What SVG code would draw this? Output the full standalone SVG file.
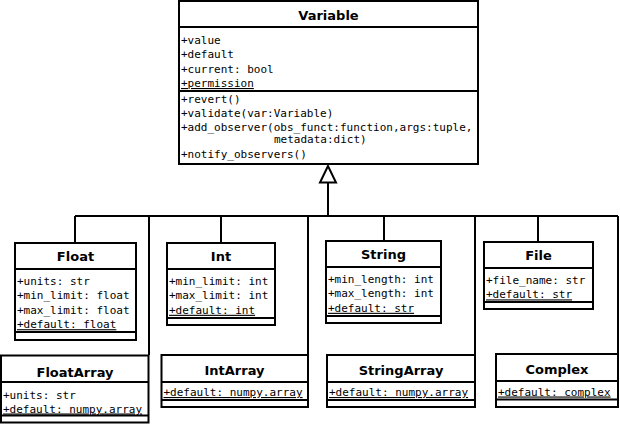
<svg xmlns="http://www.w3.org/2000/svg" width="620" height="425" viewBox="0 0 620 425">
<style>
.box{fill:#fff;stroke:#000;stroke-width:2}
.div{stroke:#000;stroke-width:2;fill:none}
.t{font-family:"DejaVu Sans","Liberation Sans",sans-serif;font-weight:bold;font-size:13px;text-anchor:middle;fill:#000}
.a{font-family:"DejaVu Sans Mono","Liberation Mono",monospace;font-size:11px;fill:#000}
.u{text-decoration:underline}
.c{stroke:#000;stroke-width:2;fill:none}
</style>
<rect width="620" height="425" fill="#fff"/>
<g id="connectors">
<path class="c" d="M75,216 H618"/>
<path class="c" d="M75,216 V243 M149,216 V355 M221,216 V243 M308,216 V355 M384,216 V241 M475,216 V355 M538,216 V242 M618,216 V354"/>
<path class="c" d="M328,183 V216" stroke-width="2.5"/>
<polygon points="328,166 320,182.5 336,182.5" fill="#fff" stroke="#000" stroke-width="2"/>
</g>
<g id="Variable">
<rect class="box" x="179" y="1" width="299" height="163"/>
<path class="div" d="M179,27 H478 M179,91 H478"/>
<text class="t" x="328.5" y="20">Variable</text>
<text class="a" x="181" y="43.5">+value</text>
<text class="a" x="181" y="58">+default</text>
<text class="a" x="181" y="72.5">+current: bool</text>
<text class="a u" x="181" y="87">+permission</text>
<text class="a" x="181" y="102.5">+revert()</text>
<text class="a" x="181" y="117">+validate(var:Variable)</text>
<text class="a" x="181" y="130.5">+add_observer(obs_funct:function,args:tuple,</text>
<text class="a" x="274" y="143">metadata:dict)</text>
<text class="a" x="181" y="157.5">+notify_observers()</text>
</g>
<g id="Float">
<rect class="box" x="15" y="243" width="121" height="97"/>
<path class="div" d="M15,269 H136 M15,332 H136"/>
<text class="t" x="75.5" y="261">Float</text>
<text class="a" x="17" y="285">+units: str</text>
<text class="a" x="17" y="299.4">+min_limit: float</text>
<text class="a" x="17" y="313.8">+max_limit: float</text>
<text class="a u" x="17" y="328.2">+default: float</text>
</g>
<g id="Int">
<rect class="box" x="167" y="243" width="108" height="82"/>
<path class="div" d="M167,269 H275 M167,318 H275"/>
<text class="t" x="221" y="261">Int</text>
<text class="a" x="169" y="285">+min_limit: int</text>
<text class="a" x="169" y="299.4">+max_limit: int</text>
<text class="a u" x="169" y="313.8">+default: int</text>
</g>
<g id="String">
<rect class="box" x="326" y="241" width="115" height="82"/>
<path class="div" d="M326,267 H441 M326,316 H441"/>
<text class="t" x="383.5" y="259">String</text>
<text class="a" x="328" y="283">+min_length: int</text>
<text class="a" x="328" y="297.4">+max_length: int</text>
<text class="a u" x="328" y="311.8">+default: str</text>
</g>
<g id="File">
<rect class="box" x="484" y="242" width="109" height="67"/>
<path class="div" d="M484,268 H593 M484,302 H593"/>
<text class="t" x="538.5" y="260">File</text>
<text class="a" x="486" y="284">+file_name: str</text>
<text class="a u" x="486" y="298.4">+default: str</text>
</g>
<g id="FloatArray">
<rect class="box" x="1" y="355.5" width="147.5" height="67"/>
<path class="div" d="M1,382 H148.5 M1,415.5 H148.5"/>
<text class="t" x="75" y="376.5">FloatArray</text>
<text class="a" x="3" y="398.5">+units: str</text>
<text class="a u" x="3" y="412.5">+default: numpy.array</text>
</g>
<g id="IntArray">
<rect class="box" x="161.5" y="355" width="146.5" height="52"/>
<path class="div" d="M161.5,382 H308 M161.5,400 H308"/>
<text class="t" x="234.5" y="375">IntArray</text>
<text class="a u" x="163.5" y="396">+default: numpy.array</text>
</g>
<g id="StringArray">
<rect class="box" x="327" y="355" width="148" height="52"/>
<path class="div" d="M327,382 H475 M327,400 H475"/>
<text class="t" x="401" y="375">StringArray</text>
<text class="a u" x="329" y="396">+default: numpy.array</text>
</g>
<g id="Complex">
<rect class="box" x="496" y="354" width="122" height="53"/>
<path class="div" d="M496,381 H618 M496,399.5 H618"/>
<text class="t" x="557" y="373.5">Complex</text>
<text class="a u" x="498" y="395.5">+default: complex</text>
</g>
</svg>
